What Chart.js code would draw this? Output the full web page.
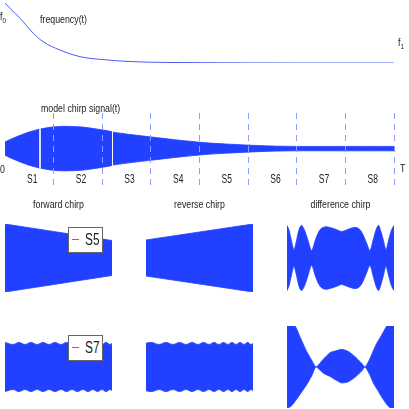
<!DOCTYPE html>
<html>
<head>
<meta charset="utf-8">
<script src="https://cdn.jsdelivr.net/npm/chart.js@4.4.1/dist/chart.umd.min.js"></script>
<style>
  body { margin: 0; background: #fff; }
  #wrap { position: relative; width: 409px; height: 409px; overflow: hidden;
          font-family: "Liberation Sans", Arial, sans-serif; color: #222; }
  canvas { position: absolute; }
  .lbl { position: absolute; font-size: 11px; line-height: 11px; white-space: nowrap;
         transform: scaleX(0.8); transform-origin: left top; }
  .lbl sub { font-size: 8px; vertical-align: -3px; line-height: 0; }
  .ttl { position: absolute; width: 107px; text-align: center; font-size: 11px; line-height: 11px;
         white-space: nowrap; transform: scaleX(0.8); transform-origin: center top; }
  .leg { position: absolute; left: 68px; width: 33px; height: 24px; border: 1px solid #666; background: #fff; }
  .leg i { position: absolute; left: 3px; top: 11px; width: 7px; height: 1px; background: #5568ff; }
  .leg span { position: absolute; left: 16px; top: 4px; font-size: 16px; line-height: 16px;
              transform: scaleX(0.74); transform-origin: left top; }
</style>
</head>
<body>
<div id="wrap">
  <canvas id="freqChart" width="409" height="70" style="left:0;top:0"></canvas>
  <canvas id="chirpChart" width="409" height="100" style="left:0;top:100px"></canvas>

  <canvas id="fwd5" width="107" height="72" style="left:5px;top:222px"></canvas>
  <canvas id="rev5" width="107" height="72" style="left:146px;top:222px"></canvas>
  <canvas id="dif5" width="107" height="72" style="left:287px;top:222px"></canvas>

  <canvas id="fwd7" width="107" height="85" style="left:5px;top:324px"></canvas>
  <canvas id="rev7" width="107" height="85" style="left:146px;top:324px"></canvas>
  <canvas id="dif7" width="107" height="85" style="left:287px;top:324px"></canvas>

  <div class="lbl" style="left:0;top:11px">f<sub>0</sub></div>
  <div class="lbl" style="left:40px;top:14px">frequency(t)</div>
  <div class="lbl" style="left:398px;top:37px">f<sub>1</sub></div>
  <div class="lbl" style="left:41px;top:103px">model chirp signal(t)</div>
  <div class="lbl" style="left:0;top:164px">0</div>
  <div class="lbl" style="left:400px;top:163px">T</div>

  <div class="ttl" style="left:5px;top:199px">forward chirp</div>
  <div class="ttl" style="left:146px;top:199px">reverse chirp</div>
  <div class="ttl" style="left:287px;top:199px">difference chirp</div>

  <div class="leg" style="top:227px"><i></i><span>S5</span></div>
  <div class="leg" style="top:335px"><i></i><span>S7</span></div>
</div>

<script>
const BLUE = 'rgb(34, 64, 255)';
const FONT = '"Liberation Sans", Arial, sans-serif';

// instantaneous frequency, t in [0, T] scaled to 0..1
const freqT = [0, 0.013, 0.039, 0.073, 0.098, 0.141, 0.193, 0.244, 0.329, 0.501, 0.758, 1.0];
const freqVal = [1.0, 0.92, 0.77, 0.545, 0.42, 0.295, 0.195, 0.155, 0.12, 0.105, 0.1, 0.1];

// envelope of the model chirp signal (null = the thin white breaks in the trace)
const chirpT = [0, 0.013, 0.039, 0.064, 0.0885, 0.09, 0.0915, 0.116, 0.141, 0.167, 0.193, 0.218, 0.244,
                0.27, 0.2755, 0.2765, 0.2775, 0.329, 0.373, 0.437, 0.512, 0.566, 0.622, 0.681, 0.751, 0.85, 1.0];
const chirpAmp = [0.30, 0.41, 0.60, 0.76, 0.875, null, 0.885, 0.96, 1.0, 1.0, 0.98, 0.93, 0.86,
                  0.78, 0.76, null, 0.74, 0.62, 0.53, 0.40, 0.27, 0.21, 0.16, 0.12, 0.10, 0.10, 0.10];
const segLabels = ['S1', 'S2', 'S3', 'S4', 'S5', 'S6', 'S7', 'S8'];

// segment S5
const fwd5T = [0, 1];
const fwd5Amp = [1.0, 0.515];
const rev5T = [0, 1];
const rev5Amp = [0.53, 1.0];
const dif5T = [0, 0.02, 0.04, 0.065, 0.09, 0.11, 0.135, 0.165, 0.195, 0.23, 0.265, 0.295, 0.325, 0.365,
               0.41, 0.46, 0.51, 0.56, 0.605, 0.645, 0.68, 0.71, 0.745, 0.775, 0.805, 0.83, 0.855,
               0.875, 0.9, 0.925, 0.95, 0.975, 1.0];
const dif5Amp = [0.96, 0.81, 0.53, 0.25, 0.53, 0.81, 0.96, 0.81, 0.53, 0.22, 0.53, 0.76, 0.88, 0.92,
                 0.89, 0.84, 0.78, 0.83, 0.88, 0.9, 0.84, 0.69, 0.43, 0.22, 0.53, 0.81, 0.96,
                 0.81, 0.53, 0.25, 0.53, 0.81, 0.96];

// segment S7
const fwd7T = [0, 0.075, 0.13, 0.187, 0.243, 0.3, 0.355, 0.411, 0.467, 0.523, 0.575, 0.626, 0.677,
               0.729, 0.776, 0.822, 0.864, 0.907, 0.944, 0.981, 1.0];
const fwd7Amp = [0.6, 0.55, 0.6, 0.55, 0.6, 0.55, 0.6, 0.55, 0.6, 0.55, 0.6, 0.55, 0.6,
                 0.55, 0.6, 0.55, 0.6, 0.55, 0.6, 0.55, 0.58];
const rev7T = [0, 0.056, 0.121, 0.187, 0.252, 0.313, 0.374, 0.43, 0.486, 0.537, 0.589, 0.636, 0.682,
               0.724, 0.766, 0.804, 0.841, 0.879, 0.916, 0.949, 0.981, 1.0];
const rev7Amp = [0.58, 0.6, 0.55, 0.6, 0.55, 0.6, 0.55, 0.6, 0.55, 0.6, 0.55, 0.6, 0.55,
                 0.6, 0.55, 0.6, 0.55, 0.6, 0.55, 0.6, 0.55, 0.58];
const dif7T = [0, 0.033, 0.075, 0.121, 0.184, 0.234, 0.271, 0.339, 0.402, 0.464, 0.511, 0.573,
               0.636, 0.698, 0.729, 0.776, 0.807, 0.839, 0.871, 0.902, 0.934, 0.967, 1.0];
const dif7Upper = [1.0, 1.0, 1.0, 0.74, 0.38, 0.15, 0.0, 0.19, 0.35, 0.40, 0.43, 0.38,
                   0.25, 0.09, 0.0, 0.21, 0.40, 0.58, 0.72, 0.86, 1.0, 1.0, 1.0];
const dif7Lower = [-1.0, -0.97, -0.84, -0.67, -0.43, -0.2, 0.0, -0.15, -0.23, -0.33, -0.39, -0.36,
                   -0.25, -0.1, 0.0, -0.2, -0.39, -0.53, -0.67, -0.8, -0.92, -1.0, -1.0];

Chart.defaults.font.family = FONT;

const mirror = arr => arr.map(v => v === null ? null : -v);

function envelope(t, up, lo, tension) {
    const common = { xAxisID: 'x', borderColor: BLUE, backgroundColor: BLUE, borderWidth: 0.8,
                     pointRadius: 0, tension: tension, spanGaps: false };
    return [
        { ...common, data: t.map((x, i) => ({ x, y: up[i] })), fill: '+1' },
        { ...common, data: t.map((x, i) => ({ x, y: lo[i] })), fill: false }
    ];
}

const baseOpts = {
    responsive: false,
    animation: false,
    devicePixelRatio: 1,
    plugins: { legend: { display: false }, tooltip: { enabled: false } }
};

// S1..S8 written inside the dashed segments, a bit above the bottom of the grid lines
const segLabelPlugin = {
    id: 'segLabels',
    afterDraw(chart) {
        const s = chart.scales.seg;
        const ctx = chart.ctx;
        ctx.save();
        ctx.font = '12.5px ' + FONT;
        ctx.fillStyle = '#222';
        ctx.textAlign = 'center';
        ctx.textBaseline = 'middle';
        s.getLabels().forEach((lab, i) => {
            ctx.save();
            ctx.translate(s.getPixelForValue(i) + 3, chart.chartArea.bottom - 10);
            ctx.scale(0.68, 1);
            ctx.fillText(lab, 0, 0);
            ctx.restore();
        });
        ctx.restore();
    }
};

// frequency(t)
new Chart(document.getElementById('freqChart'), {
    type: 'line',
    data: {
        datasets: [{
            data: freqT.map((x, i) => ({ x, y: freqVal[i] })),
            borderColor: '#4a5cf2',
            borderWidth: 1,
            pointRadius: 0,
            cubicInterpolationMode: 'monotone',
            fill: false
        }]
    },
    options: {
        ...baseOpts,
        layout: { padding: { left: 5, right: 15, top: 3, bottom: 7 } },
        scales: {
            x: { type: 'linear', min: 0, max: 1, display: false },
            y: { min: 0.1, max: 1.0, display: false }
        }
    }
});

// model chirp signal(t) with segment boundaries
new Chart(document.getElementById('chirpChart'), {
    type: 'line',
    data: { datasets: envelope(chirpT, chirpAmp, mirror(chirpAmp), 0.3) },
    plugins: [segLabelPlugin],
    options: {
        ...baseOpts,
        layout: { padding: { left: 5, right: 15, top: 13, bottom: 10 } },
        scales: {
            x: { type: 'linear', min: 0, max: 1, display: false },
            seg: {
                type: 'category',
                labels: segLabels,
                position: 'bottom',
                offset: true,
                grid: {
                    offset: true,
                    drawTicks: false,
                    lineWidth: 1,
                    z: 1,
                    color: c => c.index === 0 ? 'rgba(0,0,0,0)' : '#8d9cff'
                },
                border: { display: false, dash: [6, 5] },
                ticks: { display: false },
                afterFit: s => { s.height = 0; }
            },
            y: { min: -1.865, max: 1.604, display: false }
        }
    }
});

function panel(id, t, up, lo, tension, pad) {
    new Chart(document.getElementById(id), {
        type: 'line',
        data: { datasets: envelope(t, up, lo, tension) },
        options: {
            ...baseOpts,
            layout: { padding: pad },
            scales: {
                x: { type: 'linear', min: 0, max: 1, display: false },
                y: { min: -1, max: 1, display: false }
            }
        }
    });
}

const row1 = { top: 2, bottom: 2 };
const row2 = { top: 2, bottom: 1 };
panel('fwd5', fwd5T, fwd5Amp, mirror(fwd5Amp), 0, row1);
panel('rev5', rev5T, rev5Amp, mirror(rev5Amp), 0, row1);
panel('dif5', dif5T, dif5Amp, mirror(dif5Amp), 0.3, row1);
panel('fwd7', fwd7T, fwd7Amp, mirror(fwd7Amp), 0.4, row2);
panel('rev7', rev7T, rev7Amp, mirror(rev7Amp), 0.4, row2);
panel('dif7', dif7T, dif7Upper, dif7Lower, 0.2, row2);
</script>
</body>
</html>
